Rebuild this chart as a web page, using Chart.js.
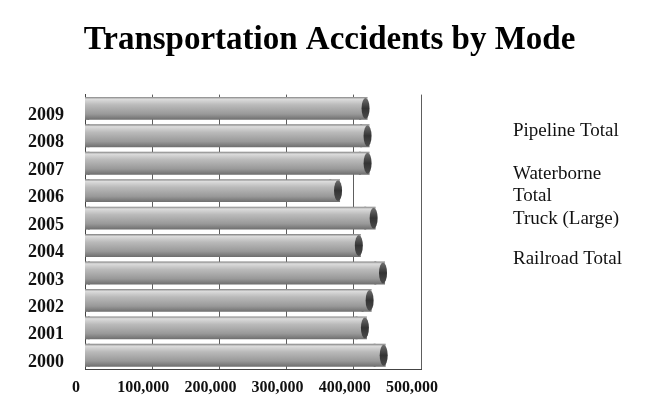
<!DOCTYPE html>
<html>
<head>
<meta charset="utf-8">
<script src="https://cdn.jsdelivr.net/npm/chart.js@4"></script>
<style>
  html, body { margin: 0; padding: 0; background: #fff; }
  #wrap { width: 659px; height: 419px; }
</style>
</head>
<body>
<div id="wrap"><canvas id="myChart" width="659" height="419"></canvas></div>
<script>
const years = ['2000', '2001', '2002', '2003', '2004', '2005', '2006', '2007', '2008', '2009'];
const pipeline = [380, 341, 644, 673, 671, 720, 638, 614, 660, 600];
const waterborne = [5400, 5200, 5100, 5300, 5000, 4900, 4600, 4700, 4500, 4200];
const truck = [425200, 398500, 407300, 426000, 389300, 411400, 359800, 403700, 405800, 404700];
const railroad = [15000, 14000, 12000, 13000, 14000, 14000, 13000, 13000, 11000, 9500];
const xTicks = [0, 100000, 200000, 300000, 400000, 500000];
const legendLines = [['Pipeline Total'], ['Waterborne', 'Total'], ['Truck (Large)'], ['Railroad Total']];

const serif = "'Liberation Serif', 'DejaVu Serif', serif";
const barPct = 0.76;

// cylinder shading, one gradient per bar
function barFill(c) {
    const chart = c.chart;
    const y = chart.scales.y;
    if (!y || !chart.chartArea) return '#aaa';
    const mid = y.getPixelForValue(c.dataIndex);
    const half = y.height / years.length * barPct / 2 + 1;
    const g = chart.ctx.createLinearGradient(0, mid - half, 0, mid + half);
    g.addColorStop(0, '#808080');
    g.addColorStop(0.1, '#dcdcdc');
    g.addColorStop(0.35, '#bababa');
    g.addColorStop(0.75, '#999');
    g.addColorStop(1, '#6e6e6e');
    return g;
}

// dark rounded end on each bar
const endCaps = {
    id: 'endCaps',
    afterDatasetsDraw(chart) {
        const meta = chart.getDatasetMeta(chart.data.datasets.length - 1);
        const ctx = chart.ctx;
        ctx.save();
        meta.data.forEach(el => {
            const h = el.height / 2;
            const g = ctx.createLinearGradient(0, el.y - h, 0, el.y + h);
            g.addColorStop(0, '#707070');
            g.addColorStop(0.5, '#333');
            g.addColorStop(1, '#4c4c4c');
            ctx.fillStyle = g;
            ctx.beginPath();
            ctx.ellipse(el.x - 1, el.y, 4, h, 0, 0, Math.PI * 2);
            ctx.fill();
        });
        ctx.restore();
    }
};

// text-only legend to the right of the plot
const legendTops = [131, 174, 219, 259];
const sideLegend = {
    id: 'sideLegend',
    afterDraw(chart) {
        const ctx = chart.ctx;
        const x = chart.chartArea.right + 92;
        ctx.save();
        ctx.font = "19px " + serif;
        ctx.fillStyle = '#111';
        ctx.textBaseline = 'middle';
        legendLines.forEach((lines, i) => {
            lines.forEach((t, j) => {
                ctx.fillText(t, x, legendTops[i] + j * 22);
            });
        });
        ctx.restore();
    }
};

const common = { backgroundColor: barFill, borderWidth: 0, inflateAmount: 1, barPercentage: barPct, categoryPercentage: 1 };

const ctx = document.getElementById('myChart').getContext('2d');
const myChart = new Chart(ctx, {
    type: 'bar',
    data: {
        labels: years,
        datasets: [
            { ...common, label: 'Pipeline Total', data: pipeline },
            { ...common, label: 'Waterborne Total', data: waterborne },
            { ...common, label: 'Truck (Large)', data: truck },
            { ...common, label: 'Railroad Total', data: railroad }
        ]
    },
    plugins: [endCaps, sideLegend],
    options: {
        indexAxis: 'y',
        responsive: false,
        animation: false,
        layout: { padding: 0 },
        plugins: {
            legend: { display: false },
            tooltip: { enabled: false },
            title: {
                display: true,
                text: 'Transportation Accidents by Mode',
                color: '#000',
                font: { family: serif, size: 33, weight: 'bold' },
                padding: { top: 21, bottom: 34 }
            }
        },
        scales: {
            x: {
                stacked: true,
                min: 0,
                max: 500000,
                afterBuildTicks: s => { s.ticks = xTicks.map(v => ({ value: v })); },
                afterFit: s => { s.height = 50; },
                grid: { color: '#5e5e5e', drawTicks: false },
                border: { color: '#444' },
                ticks: {
                    color: '#111',
                    padding: 9,
                    labelOffset: -9,
                    maxRotation: 0,
                    autoSkip: false,
                    font: { family: serif, size: 16, weight: 'bold' },
                    callback: v => v.toLocaleString('en-US')
                }
            },
            y: {
                stacked: true,
                reverse: true,
                afterFit: s => { s.width = 85; },
                grid: { display: false },
                border: { color: '#444' },
                ticks: {
                    color: '#111',
                    padding: 13,
                    labelOffset: 7,
                    font: { family: serif, size: 18, weight: 'bold' }
                }
            },
            side: {
                type: 'linear',
                position: 'right',
                afterFit: s => { s.width = 238; },
                grid: { display: false },
                border: { display: false },
                ticks: { display: false }
            }
        }
    }
});
</script>
</body>
</html>
